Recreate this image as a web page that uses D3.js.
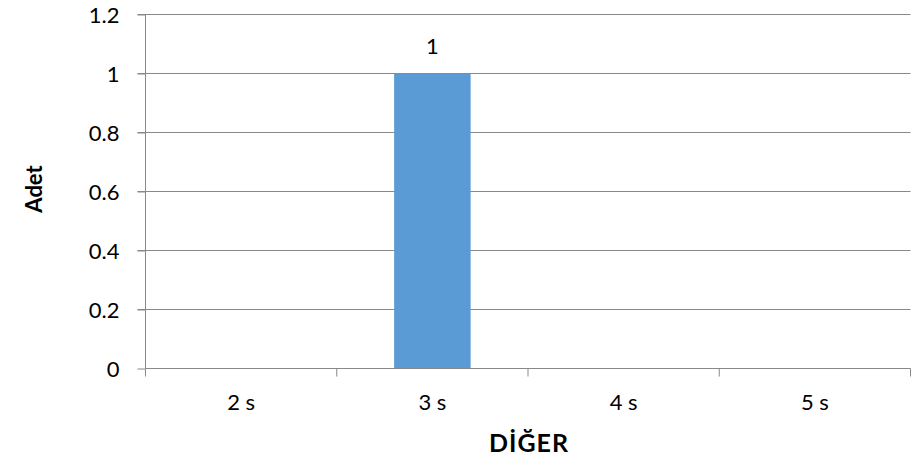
<!DOCTYPE html>
<html><head><meta charset="utf-8">
<script src="https://cdn.jsdelivr.net/npm/d3@7/dist/d3.min.js"></script>
<style>body{margin:0;background:#fff}svg{display:block}text{font-family:Lato,"Open Sans",sans-serif;fill:#000}</style>
</head><body>
<script>
const categories = ["2 s", "3 s", "4 s", "5 s"];
const values = [0, 1, 0, 0];
const yTicks = [0, 0.2, 0.4, 0.6, 0.8, 1, 1.2];
const yTickLabels = ["0", "0.2", "0.4", "0.6", "0.8", "1", "1.2"];
const xTitle = "DİĞER";
const yTitle = "Adet";

const W = 912, H = 466;
const pLeft = 145.5, pRight = 910.5, pTop = 14.5, pBottom = 368.5;
const svg = d3.select("body").append("svg").attr("width", W).attr("height", H);

const x = d3.scaleBand().domain(categories).range([pLeft, pRight]).paddingInner(0.6).paddingOuter(0.3);
const y = d3.scaleLinear().domain([0, 1.2]).range([pBottom, pTop]);

// gridlines
svg.append("g").selectAll("line").data(yTicks.filter(d => d > 0)).join("line")
  .attr("x1", pLeft - 8).attr("x2", pRight).attr("y1", d => y(d)).attr("y2", d => y(d))
  .attr("stroke", "#898989").attr("stroke-width", 1);

// bars
svg.append("g").selectAll("rect").data(categories).join("rect")
  .attr("x", d => x(d)).attr("width", x.bandwidth())
  .attr("y", (d, i) => y(values[i])).attr("height", (d, i) => y(0) - y(values[i]))
  .attr("fill", "#5B9BD5");

// y axis
const yAxis = d3.axisLeft(y).tickValues(yTicks).tickFormat((d, i) => yTickLabels[i]).tickSize(8).tickPadding(10);
const gy = svg.append("g").attr("transform", `translate(${pLeft},0)`).call(yAxis);
gy.select(".domain").attr("stroke", "#898989").attr("d", `M0,${pTop}V${pBottom}`);
gy.selectAll(".tick line").attr("stroke", "#898989");
gy.selectAll(".tick text").attr("font-size", 22).attr("font-family", "Lato, 'Open Sans', sans-serif").attr("fill", "#000").attr("x", -26).attr("dy", "0.36em");

// x axis
const xEdges = d3.range(categories.length + 1).map(i => pLeft + i * x.step());
svg.append("line").attr("x1", pLeft).attr("x2", pRight).attr("y1", pBottom).attr("y2", pBottom).attr("stroke", "#898989");
svg.append("g").selectAll("line").data(xEdges).join("line")
  .attr("x1", d => d).attr("x2", d => d).attr("y1", pBottom).attr("y2", pBottom + 8).attr("stroke", "#898989");
svg.append("g").selectAll("text").data(categories).join("text")
  .attr("x", d => x(d) + x.bandwidth() / 2).attr("y", 410)
  .attr("text-anchor", "middle").attr("font-size", 22).text(d => d);

// data labels
svg.append("g").selectAll("text").data(categories.filter((d, i) => values[i] > 0)).join("text")
  .attr("x", d => x(d) + x.bandwidth() / 2).attr("y", d => y(values[categories.indexOf(d)]) - 20)
  .attr("text-anchor", "middle").attr("font-size", 22).text(d => values[categories.indexOf(d)]);

// titles
svg.append("text").attr("x", (pLeft + pRight) / 2 + 1).attr("y", 452).attr("text-anchor", "middle")
  .attr("font-size", 25).attr("font-weight", "bold").attr("letter-spacing", 1).text(xTitle);
svg.append("text").attr("transform", `translate(42,${189}) rotate(-90)`).attr("text-anchor", "middle")
  .attr("font-size", 22).attr("font-weight", "bold").text(yTitle);
</script>
</body></html>
